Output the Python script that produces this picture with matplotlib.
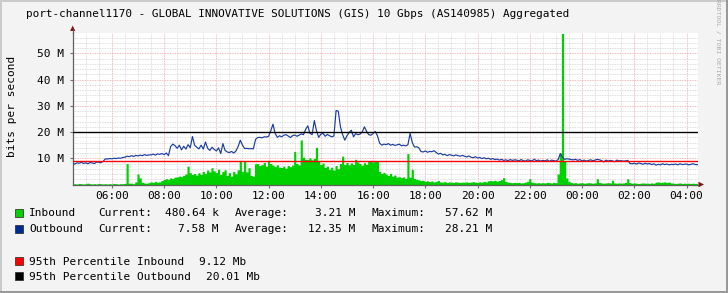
import numpy as np
import matplotlib
matplotlib.use('Agg')
import matplotlib.pyplot as plt
from matplotlib.patches import Rectangle, Polygon

# ---------------- data ----------------
title = "port-channel1170 - GLOBAL INNOVATIVE SOLUTIONS (GIS) 10 Gbps (AS140985) Aggregated"
y_label = "bits per second"
watermark = "RRDTOOL / TOBI OETIKER"

start_hour = 4.5          # 04:30
sample_minutes = 5

# inbound traffic (Mbit/s), one row per hour, 5-minute samples
inbound = [
    0.2, 0.3, 0.2, 0.4, 0.3, 0.2, 0.3, 0.5, 0.3, 0.2, 0.3, 0.2,
    0.4, 0.3, 0.2, 0.3, 0.2, 0.3, 0.2, 0.4, 0.3, 0.2, 0.3, 0.3,
    0.4, 8.0, 0.5, 0.5, 0.3, 1.0, 4.0, 2.5, 0.8, 0.6, 0.5, 0.7,
    1.0, 0.8, 1.2, 0.9, 1.0, 1.5, 1.9, 2.2, 2.0, 2.5, 2.3, 2.8,
    2.9, 3.2, 3.0, 3.5, 4.0, 7.0, 4.5, 3.8, 4.2, 3.6, 4.5, 3.9,
    5.0, 4.2, 5.5, 4.8, 6.4, 5.2, 4.6, 5.8, 3.8, 4.9, 5.6, 3.5,
    4.5, 3.2, 5.0, 4.1, 5.6, 9.2, 5.0, 9.0, 4.8, 6.4, 3.5, 3.2,
    7.9, 8.0, 7.2, 7.6, 8.4, 7.0, 9.2, 8.0, 7.4, 6.8, 7.5, 6.6,
    6.5, 7.0, 6.2, 7.3, 6.8, 7.4, 12.6, 8.0, 7.5, 17.0, 10.4, 9.6,
    9.5, 10.2, 9.4, 10.0, 14.2, 8.8, 7.6, 8.2, 6.5, 7.0, 5.8, 6.6,
    5.5, 7.2, 6.0, 8.0, 10.8, 7.6, 8.4, 7.5, 8.2, 7.6, 9.6, 8.6,
    8.0, 7.4, 8.3, 7.7, 8.8, 9.2, 8.6, 9.0, 8.8, 5.0, 4.2, 4.6,
    4.0, 3.5, 4.2, 3.2, 3.6, 2.8, 3.0, 2.6, 2.9, 2.4, 11.8, 2.8,
    5.8, 2.3, 2.0, 1.8, 1.5, 1.6, 1.2, 1.4, 1.1, 1.3, 1.0, 1.2,
    1.5, 1.0, 0.9, 1.1, 0.8, 1.0, 0.9, 0.8, 1.0, 0.9, 0.8, 0.9,
    0.9, 1.0, 0.8, 0.9, 1.1, 0.9, 0.8, 1.0, 0.9, 1.2, 1.0, 1.4,
    1.5, 1.4, 1.6, 1.3, 1.5, 1.8, 2.6, 1.2, 0.9, 0.8, 0.7, 0.8,
    0.7, 0.8, 0.6, 0.7, 0.9, 1.2, 2.2, 0.9, 0.7, 0.6, 0.7, 0.6,
    0.7, 0.6, 0.8, 0.7, 0.6, 0.8, 0.7, 4.0, 12.0, 57.62, 9.0, 2.5,
    1.2, 0.8, 0.6, 0.7, 0.5, 0.6, 0.7, 0.5, 0.6, 0.7, 0.6, 0.5,
    0.6, 2.2, 0.8, 0.6, 0.5, 0.6, 0.7, 0.6, 1.6, 0.6, 0.5, 0.6,
    0.5, 0.6, 0.8, 2.2, 0.7, 0.5, 0.6, 0.5, 0.4, 0.5, 0.6, 0.5,
    0.5, 0.4, 0.6, 0.5, 0.9, 1.0, 0.8, 0.9, 1.0, 0.8, 0.9, 0.6,
    0.5, 0.4, 0.5, 0.6, 0.4, 0.5, 0.4, 0.5, 0.4, 0.5, 0.4, 0.48,
]

# outbound traffic (Mbit/s)
outbound = [
    8.0, 7.8, 8.3, 8.1, 8.5, 8.0, 8.3, 7.9, 8.4, 8.2, 8.0, 8.6,
    8.5, 8.3, 8.8, 9.8, 9.7, 9.9, 9.8, 10.0, 9.9, 10.1, 10.0, 10.3,
    10.4, 10.8, 10.6, 11.0, 10.7, 11.1, 10.9, 11.2, 11.0, 11.4, 11.1, 11.3,
    11.3, 11.6, 11.2, 11.7, 11.5, 11.8, 11.4, 12.0, 11.0, 14.5, 15.4, 14.8,
    13.8, 15.0, 13.2, 14.6, 13.5, 15.2, 14.0, 18.3, 15.0, 14.2, 13.6, 15.0,
    13.5, 16.2, 13.8, 13.0, 14.2, 13.4, 12.8, 14.0, 11.8, 15.6, 13.0, 12.4,
    12.2, 12.6, 12.0, 12.8, 14.5, 16.9, 15.0, 13.7, 13.8, 13.6, 13.7, 13.6,
    17.2, 17.9, 18.0, 17.8, 18.2, 18.1, 18.4, 20.5, 23.0, 19.5, 18.0, 18.6,
    18.2, 18.8, 19.0, 18.5, 17.9, 18.6, 18.9, 18.4, 18.8, 19.3, 19.0, 21.0,
    22.4, 19.5, 19.0, 24.4, 20.5, 18.0, 19.2, 19.5, 18.4, 19.1, 18.6, 18.2,
    18.5, 28.21, 28.0, 22.0, 19.0, 16.9, 18.6, 19.8, 20.7, 18.2, 19.4, 19.0,
    19.2, 20.0, 22.0, 20.3, 19.0, 18.8, 19.5, 20.2, 18.6, 15.8, 15.0, 15.4,
    15.2, 15.6, 15.0, 15.3, 14.9, 15.1, 15.4, 14.8, 15.0, 14.7, 15.2, 19.5,
    16.0, 14.3, 14.4, 14.0, 12.6, 12.4, 12.8, 12.3, 12.6, 12.5, 12.9, 12.2,
    11.6, 11.9, 11.3, 11.5, 11.0, 11.4, 11.2, 10.9, 11.3, 11.0, 10.8, 11.1,
    10.8, 10.5, 10.9, 10.4, 10.2, 10.6, 10.1, 10.3, 9.9, 10.2, 9.8, 10.0,
    9.6, 9.9, 9.5, 9.7, 9.3, 9.6, 9.2, 9.4, 9.1, 9.5, 9.2, 9.4,
    9.3, 9.0, 9.5, 9.1, 8.9, 9.4, 9.2, 9.0, 9.6, 9.1, 9.3, 8.9,
    9.2, 9.0, 9.4, 8.8, 9.3, 9.1, 8.9, 9.5, 11.8, 10.4, 9.6, 9.8,
    9.7, 9.5, 9.4, 9.6, 9.2, 9.5, 9.0, 9.3, 8.9, 9.2, 9.4, 9.1,
    9.3, 9.6, 9.4, 9.1, 8.6, 9.3, 8.9, 9.2, 9.0, 8.7, 9.3, 9.0,
    9.1, 8.9, 9.0, 9.2, 8.0, 7.9, 8.1, 7.8, 8.2, 8.0, 7.7, 8.1,
    7.8, 8.0, 7.6, 7.9, 7.4, 7.7, 7.5, 7.9, 7.6, 7.8, 7.5, 7.7,
    7.6, 7.8, 7.5, 7.9, 7.6, 7.7, 7.8, 7.5, 7.7, 7.9, 7.6, 7.58,
]

pct95_in = 9.12
pct95_out = 20.01

x_tick_hours = [6, 8, 10, 12, 14, 16, 18, 20, 22, 24, 26, 28]
x_tick_labels = ["06:00", "08:00", "10:00", "12:00", "14:00", "16:00",
                 "18:00", "20:00", "22:00", "00:00", "02:00", "04:00"]
y_ticks = [10, 20, 30, 40, 50]
y_tick_labels = ["10 M", "20 M", "30 M", "40 M", "50 M"]

legend_rows = [
    ("Inbound",  "480.64 k", "3.21 M", "57.62 M"),
    ("Outbound", "7.58 M",   "12.35 M", "28.21 M"),
]
pct_rows = [
    ("95th Percentile Inbound", "9.12 Mb"),
    ("95th Percentile Outbound", "20.01 Mb"),
]

# ---------------- style ----------------
C_IN = '#00CF00'
C_OUT = '#002A97'
C_LINE_OUT = '#1A3C9E'
C_P_IN = '#FF0000'
C_P_OUT = '#000000'
BG = '#F3F3F3'
MONO = 'DejaVu Sans Mono'
FS = 8

W, H = 728, 293
fig = plt.figure(figsize=(W / 100, H / 100), dpi=100, facecolor=BG)


def fx(px):
    return px / W


def fy(py):
    return 1 - py / H


def prect(x, y, w, h, **kw):
    fig.add_artist(Rectangle((fx(x), fy(y + h)), w / W, h / H,
                             transform=fig.transFigure, **kw))


AX_L, AX_R, AX_T, AX_B = 72.7, 698.3, 32.7, 184.5
ax = fig.add_axes([fx(AX_L), fy(AX_B), (AX_R - AX_L) / W, (AX_B - AX_T) / H])
ax.set_facecolor('white')

t = start_hour + np.arange(len(inbound)) * sample_minutes / 60.0

ax.fill_between(t, 0, inbound, step='mid', color=C_IN, linewidth=0, zorder=2)
ax.plot(t, outbound, color=C_LINE_OUT, lw=0.85, zorder=3)
ax.axhline(pct95_in, color=C_P_IN, lw=1.0, zorder=4)
ax.axhline(pct95_out, color=C_P_OUT, lw=1.0, zorder=4)

ax.set_xlim(4.5, 28.45)
ax.set_ylim(0, 57.9)

ax.set_xticks(x_tick_hours)
ax.set_xticklabels(x_tick_labels, fontsize=FS, family=MONO)
ax.set_xticks(np.arange(5.0, 28.5, 0.5), minor=True)
ax.set_yticks(y_ticks)
ax.set_yticklabels(y_tick_labels, fontsize=FS, family=MONO)
ax.set_yticks(np.arange(2, 58, 2), minor=True)

ax.grid(which='minor', color='#D4D4D4', linestyle=(0, (1, 1)), linewidth=0.6, zorder=0)
ax.grid(which='major', color='#EFA3A3', linestyle=(0, (1, 1)), linewidth=0.6, zorder=0)
ax.set_axisbelow(True)

ax.tick_params(which='major', length=2, width=0.8, color='#707070', pad=4)
ax.tick_params(axis='x', which='major', pad=3)
ax.tick_params(which='minor', length=0)

for s in ('top', 'right'):
    ax.spines[s].set_visible(False)
for s in ('left', 'bottom'):
    ax.spines[s].set_color('#606060')
    ax.spines[s].set_linewidth(0.9)

# axis arrows
ARROW = '#801818'
fig.add_artist(Polygon([[fx(AX_L - 2.6), fy(31)], [fx(AX_L + 2.6), fy(31)], [fx(AX_L), fy(25.5)]],
                       closed=True, transform=fig.transFigure, color=ARROW, lw=0))
fig.add_artist(Polygon([[fx(698.5), fy(AX_B - 2.8)], [fx(698.5), fy(AX_B + 2.8)], [fx(704), fy(AX_B)]],
                       closed=True, transform=fig.transFigure, color=ARROW, lw=0))
fig.add_artist(plt.Line2D([fx(AX_L), fx(AX_L)], [fy(AX_T), fy(30)], transform=fig.transFigure,
                          color='#606060', lw=0.9))

# title, y label, watermark
fig.text(fx(26), fy(14), title, ha='left', va='center', fontsize=7.9, family=MONO)
fig.text(fx(11.7), fy(106.7), y_label, ha='center', va='center', rotation=90,
         fontsize=FS, family=MONO)
fig.text(fx(718.3), fy(42), watermark, ha='center', va='center', rotation=270,
         fontsize=4.6, family=MONO, color='#A8A8A8')

# legend
row_y = [213.3, 229.3]
for (name, cur, avg, mx), yy, c in zip(legend_rows, row_y, [C_IN, C_OUT]):
    prect(15, yy - 4.3, 8, 8, facecolor=c, edgecolor='#222222', lw=0.5)
    fig.text(fx(29), fy(yy), name, ha='left', va='center', fontsize=FS, family=MONO)
    fig.text(fx(98.3), fy(yy), "Current:", ha='left', va='center', fontsize=FS, family=MONO)
    fig.text(fx(219), fy(yy), cur, ha='right', va='center', fontsize=FS, family=MONO)
    fig.text(fx(235), fy(yy), "Average:", ha='left', va='center', fontsize=FS, family=MONO)
    fig.text(fx(355.7), fy(yy), avg, ha='right', va='center', fontsize=FS, family=MONO)
    fig.text(fx(371), fy(yy), "Maximum:", ha='left', va='center', fontsize=FS, family=MONO)
    fig.text(fx(492.3), fy(yy), mx, ha='right', va='center', fontsize=FS, family=MONO)

pct_y = [261.7, 276.7]
pct_val_x = [199, 206]
for (name, val), yy, c, vx in zip(pct_rows, pct_y, [C_P_IN, C_P_OUT], pct_val_x):
    prect(15, yy - 4.3, 8, 8, facecolor=c, edgecolor='#222222', lw=0.5)
    fig.text(fx(29), fy(yy), name, ha='left', va='center', fontsize=FS, family=MONO)
    fig.text(fx(vx), fy(yy), val, ha='left', va='center', fontsize=FS, family=MONO)

# 3D border
prect(0, 0, W, 2, facecolor='#CBCBCB', lw=0)
prect(0, 0, 2, H, facecolor='#CBCBCB', lw=0)
prect(0, H - 2, W, 2, facecolor='#999999', lw=0)
prect(W - 2, 0, 2, H, facecolor='#999999', lw=0)

fig.savefig('out.png', dpi=100, facecolor=BG)
